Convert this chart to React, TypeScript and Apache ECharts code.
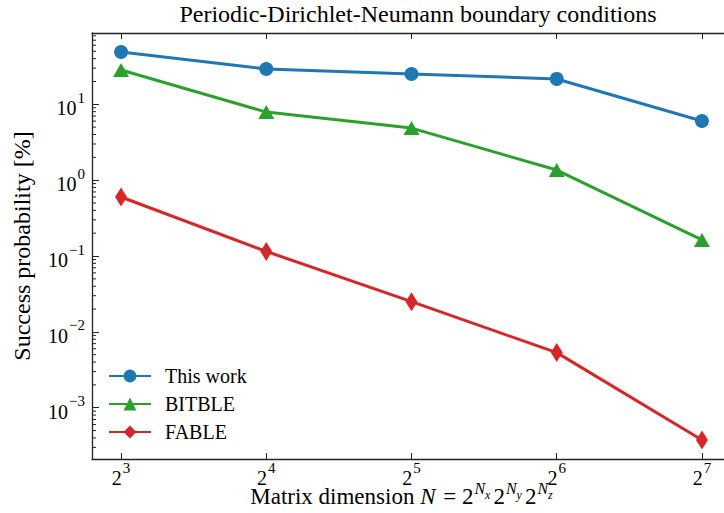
import React, { useEffect, useRef } from "react";
import * as echarts from "echarts";

// exponents k of N = 2^k
const exps = [3, 4, 5, 6, 7];
const thisWork = [49, 29.2, 25.1, 21.6, 6.03];
const bitble = [28.3, 7.9, 4.86, 1.36, 0.163];
const fable = [0.6, 0.115, 0.025, 0.00533, 0.000375];

const seriesNames = ["This work", "BITBLE", "FABLE"];
const colors = ["#1f77b4", "#2ca02c", "#d62728"];

// minor tick values for log axis (multipliers and decades)
const minorMultipliers = [2, 3, 4, 5, 6, 7, 8, 9];
const minorDecades = [-4, -3, -2, -1, 0, 1];

const X_MIN = 2.8;
const X_MAX = 7.2;
const Y_MIN = 2.11e-4;
const Y_MAX = 87.1;

const FONT = "Liberation Serif";

function supLabel(base: string, exp: string) {
  return `{b|${base}}{s|${exp}}`;
}

export default function App() {
  const ref = useRef<HTMLDivElement>(null);
  useEffect(() => {
    if (!ref.current) return;
    const chart = echarts.init(ref.current, undefined, { renderer: "svg" });
    const minorTicks: number[] = [];
    minorDecades.forEach((d) =>
      minorMultipliers.forEach((m) => {
        const v = m * Math.pow(10, d);
        if (v > Y_MIN && v < Y_MAX) minorTicks.push(v);
      })
    );
    const tickRich = {
      b: { fontFamily: FONT, fontSize: 20, color: "#000", padding: [8, 0, 0, 0], verticalAlign: "bottom" },
      s: { fontFamily: FONT, fontSize: 15, color: "#000", verticalAlign: "top", padding: [0, 0, 0, 1] },
    };
    const mk = (vals: number[]) => exps.map((e, i) => [e, vals[i]]);
    const nameRich = {
      r: { fontFamily: FONT, fontSize: 23, color: "#000", padding: [5, 0, 0, 0], verticalAlign: "bottom" },
      i: { fontFamily: FONT, fontSize: 23, fontStyle: "italic", color: "#000", padding: [5, 2, 0, 0], verticalAlign: "bottom" },
      s: { fontFamily: FONT, fontSize: 16, fontStyle: "italic", color: "#000", verticalAlign: "top", padding: [0, 0, 0, 1] },
      ss: { fontFamily: FONT, fontSize: 12, fontStyle: "italic", color: "#000", padding: [9, 3, 0, 0], verticalAlign: "top" },
      se: { fontFamily: FONT, fontSize: 12, fontStyle: "italic", color: "#000", padding: [9, 20, 0, 0], verticalAlign: "top" },
    };
    const option: any = {
      animation: false,
      backgroundColor: "#fff",
      graphic: [
        {
          type: "text",
          x: 418,
          y: 14,
          style: {
            text: "Periodic-Dirichlet-Neumann boundary conditions",
            font: `24px "${FONT}"`,
            fill: "#000",
            align: "center",
            verticalAlign: "middle",
          },
        },
      ],
      grid: { left: 92, top: 33, right: -7, bottom: 54, outerBoundsMode: "none", containLabel: false },
      legend: {
        data: seriesNames,
        orient: "vertical",
        left: 108,
        top: 366,
        padding: 0,
        itemWidth: 42,
        itemHeight: 16,
        itemGap: 8,
        textStyle: { fontFamily: FONT, fontSize: 20, color: "#000", padding: [0, 0, 0, 9] },
      },
      xAxis: [
        {
          type: "value",
          min: X_MIN,
          max: X_MAX,
          splitNumber: 4,
          name: "{r|Matrix dimension }{i|N}{r| = 2}{s|N}{ss|x}{r|2}{s|N}{ss|y}{r|2}{s|N}{se|z}",
          nameLocation: "middle",
          nameGap: 21,
          nameMoveOverlap: false,
          nameTextStyle: { rich: nameRich },
          axisLine: { lineStyle: { color: "#222", width: 1.3 } },
          axisTick: { inside: true, length: 6, lineStyle: { color: "#222", width: 1 } },
          axisLabel: {
            margin: 1,
            showMinLabel: false,
            showMaxLabel: false,
            formatter: (v: number) => (Number.isInteger(v) ? supLabel("2", String(v)) : ""),
            rich: tickRich,
          },
          splitLine: { show: false },
        },
        {
          type: "value",
          position: "top",
          min: X_MIN,
          max: X_MAX,
          splitNumber: 4,
          axisLine: { lineStyle: { color: "#222", width: 1.3 } },
          axisTick: { inside: true, length: 6, lineStyle: { color: "#222", width: 1 } },
          axisLabel: { show: false },
          splitLine: { show: false },
        },
      ],
      yAxis: {
        type: "log",
        logBase: 10,
        min: Y_MIN,
        max: Y_MAX,
        name: "Success probability [%]",
        nameLocation: "middle",
        nameGap: 58,
        nameMoveOverlap: false,
        nameRotate: 90,
        nameTextStyle: { fontFamily: FONT, fontSize: 24, color: "#000" },
        axisLine: { lineStyle: { color: "#222", width: 1.3 } },
        axisTick: { inside: true, length: 7, lineStyle: { color: "#222", width: 1 } },
        axisLabel: {
          margin: 7,
          showMinLabel: false,
          showMaxLabel: false,
          formatter: (v: number) => {
            const e = Math.round(Math.log10(v));
            return supLabel("10", e < 0 ? "\u2212" + Math.abs(e) : String(e));
          },
          rich: tickRich,
        },
        splitLine: { show: false },
      },
      series: [
        ...[thisWork, bitble, fable].map((vals, i) => ({
          name: seriesNames[i],
          type: "line",
          data: mk(vals),
          color: colors[i],
          lineStyle: { width: 3, color: colors[i] },
          itemStyle: { color: colors[i] },
          symbol: ["circle", "triangle", "diamond"][i],
          symbolSize: [[14, 14], [16, 14], [12, 19]][i],
          showSymbol: true,
          z: 3 + i,
        })),
        {
          type: "custom",
          coordinateSystem: "cartesian2d",
          silent: true,
          clip: false,
          data: minorTicks.map((v) => [X_MIN, v]),
          renderItem: (params: any, api: any) => {
            const p = api.coord([api.value(0), api.value(1)]);
            return {
              type: "line",
              shape: { x1: p[0], y1: p[1], x2: p[0] + 4, y2: p[1] },
              style: { stroke: "#222", lineWidth: 1 },
            };
          },
          z: 2,
        },
      ],
    };
    chart.setOption(option);
    return () => chart.dispose();
  }, []);
  return <div ref={ref} style={{ width: 724, height: 513, position: "absolute", left: 0, top: 0 }} />;
}
